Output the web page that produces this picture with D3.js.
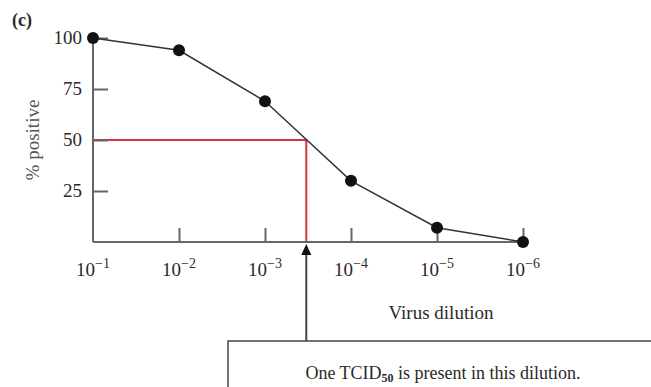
<!DOCTYPE html>
<html><head><meta charset="utf-8">
<script src="https://cdn.jsdelivr.net/npm/d3@7"></script>
<style>body{margin:0;background:#fff}svg{display:block}text{font-family:"Liberation Serif","DejaVu Serif",serif}</style>
</head><body><svg id="c" width="651" height="387"></svg>
<script>
const exponents = [1, 2, 3, 4, 5, 6];
const percentPositive = [100, 94, 69, 30, 7, 0];
const yTicks = [25, 50, 75, 100];
const tcid50Exponent = 3.48;
const tcid50Percent = 50;

const svg = d3.select("#c");
const x = d3.scaleLinear().domain([1, 6]).range([93, 523]);
const y = d3.scaleLinear().domain([0, 100]).range([242, 38]);
const axisCol = "#666";
const txtCol = "#2a2a2a";

svg.append("text").attr("x", 12).attr("y", 26).attr("font-size", 18).attr("font-weight", "bold").attr("fill", txtCol).text("(c)");

// red TCID50 guides
svg.append("path")
  .attr("d", `M${x(1)},${y(tcid50Percent)}H${x(tcid50Exponent)}V${y(0)}`)
  .attr("fill", "none").attr("stroke", "#d8323c").attr("stroke-width", 2);

// y axis
const yAxis = d3.axisRight(y).tickValues(yTicks).tickSize(15).tickFormat("");
const gy = svg.append("g").attr("transform", `translate(${x(1)},0)`).call(yAxis);
gy.select(".domain").remove();
gy.selectAll(".tick line").attr("stroke", axisCol).attr("stroke-width", 2);
gy.append("line").attr("y1", y(0)).attr("y2", y(100)).attr("stroke", axisCol).attr("stroke-width", 2);
svg.append("g").selectAll("text").data([...yTicks]).join("text")
  .attr("x", 82).attr("y", d => y(d) + 6).attr("text-anchor", "end")
  .attr("font-size", 19).attr("fill", txtCol).text(d => d);

// x axis
const xAxis = d3.axisTop(x).tickValues(exponents.slice(1)).tickSize(14).tickFormat("");
const gx = svg.append("g").attr("transform", `translate(0,${y(0)})`).call(xAxis);
gx.select(".domain").remove();
gx.selectAll(".tick line").attr("stroke", axisCol).attr("stroke-width", 2);
gx.append("line").attr("x1", x(1)).attr("x2", x(6)).attr("stroke", axisCol).attr("stroke-width", 2);
const xl = svg.append("g").selectAll("text").data(exponents).join("text")
  .attr("x", d => x(d)).attr("y", 276).attr("text-anchor", "middle")
  .attr("font-size", 19).attr("fill", txtCol);
xl.append("tspan").text("10");
xl.append("tspan").attr("dy", -8).attr("font-size", 14).text(d => "\u2212" + d);

// data line and points
svg.append("path").datum(exponents.map((e, i) => [e, percentPositive[i]]))
  .attr("d", d3.line().x(d => x(d[0])).y(d => y(d[1])))
  .attr("fill", "none").attr("stroke", "#333").attr("stroke-width", 1.5);
svg.append("g").selectAll("circle").data(exponents).join("circle")
  .attr("cx", d => x(d)).attr("cy", (d, i) => y(percentPositive[i])).attr("r", 6).attr("fill", "#111");

// axis labels
svg.append("text").attr("x", 441).attr("y", 319).attr("text-anchor", "middle").attr("font-size", 19).attr("fill", txtCol).text("Virus dilution");
svg.append("text").attr("transform", `translate(39,${y(50)}) rotate(-90)`).attr("text-anchor", "middle").attr("font-size", 19).attr("fill", "#555").text("% positive");

// arrow and box
svg.append("line").attr("x1", x(tcid50Exponent)).attr("x2", x(tcid50Exponent)).attr("y1", 341).attr("y2", 252)
  .attr("stroke", "#444").attr("stroke-width", 2);
svg.append("path").attr("d", `M${x(tcid50Exponent)},${y(0)+2}l-5,11h10z`).attr("fill", "#111");
svg.append("rect").attr("x", 228).attr("y", 341).attr("width", 440).attr("height", 60)
  .attr("fill", "#fff").attr("stroke", "#444").attr("stroke-width", 1.5);
const bt = svg.append("text").attr("x", 443).attr("y", 379).attr("text-anchor", "middle").attr("font-size", 18).attr("fill", txtCol);
bt.append("tspan").text("One TCID");
bt.append("tspan").attr("dy", 3).attr("font-size", 12).attr("font-weight", "bold").text("50");
bt.append("tspan").attr("dy", -3).text(" is present in this dilution.");
</script></body></html>
